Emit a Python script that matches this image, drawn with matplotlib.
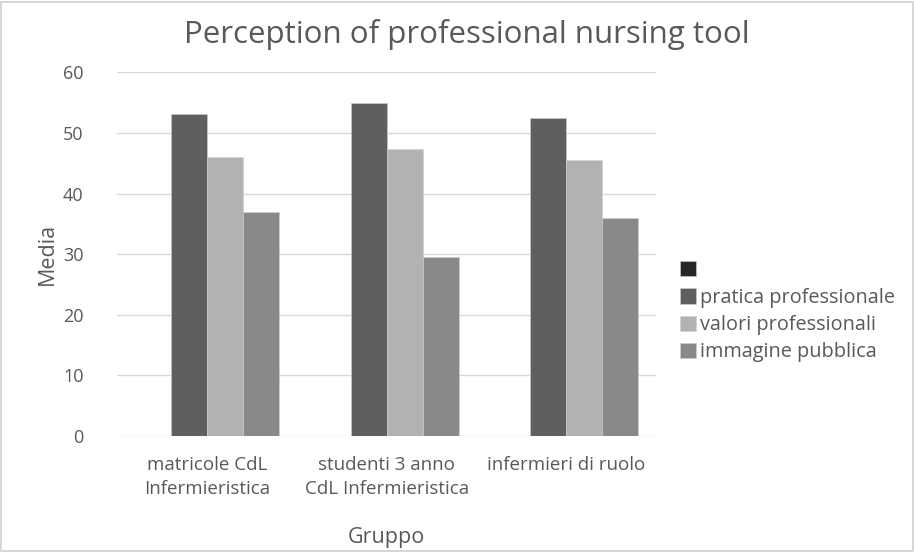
import numpy as np
import matplotlib
matplotlib.use('Agg')
import matplotlib.pyplot as plt
from matplotlib.patches import Rectangle

# data
gruppi = ['matricole CdL\nInfermieristica', 'studenti 3 anno\nCdL Infermieristica', 'infermieri di ruolo']
serie = ['', 'pratica professionale', 'valori professionali', 'immagine pubblica']
vuota = [0, 0, 0]
pratica = [53.2, 55.0, 52.4]
valori = [46.0, 47.4, 45.5]
immagine = [37.0, 29.6, 35.9]
valori_serie = [vuota, pratica, valori, immagine]
colori = ['#262626', '#5f5f5f', '#b2b2b2', '#898989']

txt = '#595959'
plt.rcParams['font.family'] = ['Open Sans', 'DejaVu Sans']

fig = plt.figure(figsize=(9.14, 5.52), dpi=100)
fig.patches.append(Rectangle((0.001, 0.001), 0.998, 0.996, transform=fig.transFigure,
                             fill=False, edgecolor='#d0d0d0', linewidth=1.2))
ax = fig.add_axes([0.128, 0.210, 0.590, 0.659])

x = np.arange(len(gruppi))
w = 0.2
handles = []
for i, (vals, c) in enumerate(zip(valori_serie, colori)):
    b = ax.bar(x + (i - 1.5) * w, vals, w, color=c, edgecolor='#d0d0d0', linewidth=0.4,
               label=serie[i], zorder=3)
    handles.append(b)

ax.set_xlim(-0.5, 2.5)
ax.set_ylim(0, 60)
ax.set_yticks(np.arange(0, 61, 10))
ax.grid(axis='y', color='#d9d9d9', linewidth=1, zorder=0)
for s in ['top', 'right', 'left', 'bottom']:
    ax.spines[s].set_visible(False)
ax.tick_params(length=0, colors=txt)
ax.tick_params(axis='y', pad=24, labelsize=13)
ax.tick_params(axis='x', pad=14, labelsize=13.5)
ax.set_xticks(x)
ax.set_xticklabels(gruppi, linespacing=1.45)

ax.set_ylabel('Media', fontsize=15.5, color=txt, labelpad=4)
ax.set_xlabel('Gruppo', fontsize=15.5, color=txt, labelpad=21)
fig.text(0.511, 0.937, 'Perception of professional nursing tool', ha='center', va='center',
         fontsize=22.5, color=txt)

leg = fig.legend(handles=handles, labels=serie, loc='upper left', bbox_to_anchor=(0.735, 0.542),
                 frameon=False, fontsize=14.3, handlelength=0.8, handleheight=0.8,
                 handletextpad=0.2, labelspacing=0.36, labelcolor=txt, borderaxespad=0)

fig.savefig('out.png', dpi=100)
